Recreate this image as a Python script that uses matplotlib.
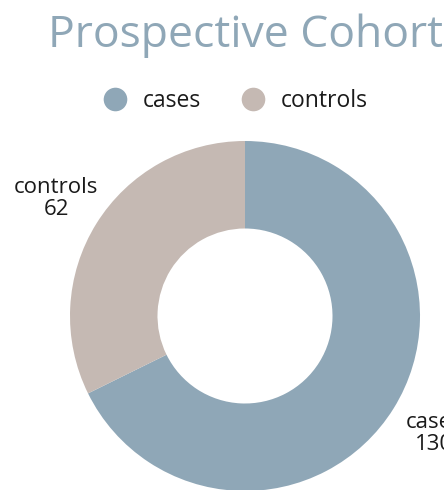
import matplotlib
matplotlib.use("Agg")
import matplotlib.pyplot as plt
from matplotlib.lines import Line2D

title = "Prospective Cohort"
categories = ["cases", "controls"]
counts = [130, 62]
colors = ["#8fa7b7", "#c5b9b3"]

plt.rcParams['font.family'] = ['Open Sans', 'DejaVu Sans']

W, H = 444, 490
cx, cy, R = 245, 316, 175

fig = plt.figure(figsize=(W / 100, H / 100), dpi=100)
ax = fig.add_axes([0, 0, 1, 1])

labels = [f"{c}\n{v}" for c, v in zip(categories, counts)]
wedges, texts = ax.pie(counts, colors=colors, startangle=90, counterclock=False,
                       radius=1, labels=labels, labeldistance=1.27,
                       wedgeprops=dict(width=0.5, edgecolor="none"),
                       textprops=dict(fontsize=16, color="#1a1a1a", linespacing=1.1))
for t in texts:
    t.set_ha("center")
    t.set_va("center")

ax.set_xlim(-cx / R, (W - cx) / R)
ax.set_ylim(-(H - cy) / R, cy / R)
ax.set_aspect("equal")
ax.axis("off")

fig.text(cx / W, 1 - 36 / H, title, ha="center", va="center",
         fontsize=32, color="#8fa7b7")

handles = [Line2D([0], [0], marker="o", linestyle="none", markersize=17,
                  markerfacecolor=c, markeredgecolor="none") for c in colors]
fig.legend(handles, categories, loc="center", bbox_to_anchor=(230 / W, 1 - 101 / H),
           ncol=2, frameon=False, fontsize=16.5, handletextpad=0.2, columnspacing=1.3,
           labelcolor="#1a1a1a")

fig.savefig("out.png", dpi=100)
